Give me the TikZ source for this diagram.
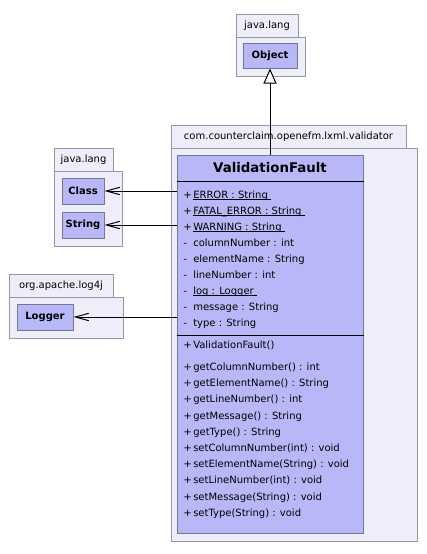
\documentclass[tikz,border=0pt]{standalone}
\usepackage{fontspec}
\setmainfont{DejaVu Sans}
\usepackage{tikz}
\usetikzlibrary{arrows.meta, fit}

\definecolor{pkgfill}{RGB}{238,238,250}
\definecolor{pkgline}{RGB}{150,150,166}
\definecolor{clsfill}{RGB}{184,184,248}
\definecolor{clsline}{RGB}{118,118,150}

\newsavebox{\statbox}
\newcommand{\vis}[1]{\makebox[7.5pt][l]{#1}}
\newcommand{\stat}[1]{\sbox{\statbox}{#1\ }\rlap{\rule[-0.9pt]{\wd\statbox}{0.6pt}}\usebox{\statbox}}

\begin{document}
\begin{tikzpicture}[
    x=0.75pt, y=-0.75pt,
    every node/.style={font=\fontsize{7.5}{9}\selectfont},
    pkgtab/.style={rectangle, draw=pkgline, fill=pkgfill, line width=0.75pt, inner sep=0pt},
    pkgbody/.style={rectangle, draw=pkgline, fill=pkgfill, line width=0.75pt, inner sep=0pt},
    classbox/.style={rectangle, draw=clsline, fill=clsfill, line width=0.75pt, inner sep=0pt},
    boxtext/.style={font=\fontsize{7.5}{9}\selectfont\bfseries},
    member/.style={anchor=base west, inner sep=0pt},
    gen/.style={-{Triangle[length=11.25pt, width=9.75pt, fill=white]}, line width=0.75pt},
    assoc/.style={-{Straight Barb[length=10pt, width=5.5pt]}, line width=0.75pt}
]
\useasboundingbox (0,0) rectangle (426,554);

% Packages
\node (objtab) [pkgtab, fit={(236,14) (298,37)}, label=center:java.lang] {};
\node (objpkg) [pkgbody, fit={(236,37) (305,76)}] {};
\node (obj) [classbox, fit={(243,43) (297,68)}, label={[boxtext]center:Object}] {};

\node (vtab) [pkgtab, fit={(171,125) (406,148)}, label=center:com.counterclaim.openefm.lxml.validator] {};
\node (vpkg) [pkgbody, fit={(171,148) (417,541)}] {};

\node (jltab) [pkgtab, fit={(54,148) (113,171)}, label=center:java.lang] {};
\node (jlpkg) [pkgbody, fit={(54,171) (122,246)}] {};
\node (cls) [classbox, fit={(62,178) (104,204)}, label={[boxtext]center:Class}] {};
\node (str) [classbox, fit={(62,212) (104,238)}, label={[boxtext]center:String}] {};

\node (logtab) [pkgtab, fit={(9,274) (113,297)}, label=center:org.apache.log4j] {};
\node (logpkg) [pkgbody, fit={(9,297) (123,338)}] {};
\node (logger) [classbox, fit={(17,304) (73,330)}, label={[boxtext]center:Logger}] {};

% ValidationFault class
\node (vf) [classbox, fit={(177,155) (363,533)}] {};
\node (vfname) [font=\fontsize{10}{12}\selectfont\bfseries] at (270,168) {ValidationFault};
\draw [line width=0.75pt] (vf.west |- 0,181) -- (vf.east |- 0,181);
\draw [line width=0.75pt] (vf.west |- 0,335) -- (vf.east |- 0,335);

\foreach \m [count=\i] in {\vis{+}\stat{ERROR : String}, \vis{+}\stat{FATAL\_ERROR : String}, \vis{+}\stat{WARNING : String}, \vis{-}columnNumber : int, \vis{-}elementName : String, \vis{-}lineNumber : int, \vis{-}\stat{log : Logger}, \vis{-}message : String, \vis{-}type : String}
    \node (attr\i) [member] at (183, 182.5+16*\i) {\m};

\node (ctor) [member] at (183,348.5) {\vis{+}ValidationFault()};

\foreach \m [count=\i] in {getColumnNumber() : int, getElementName() : String, getLineNumber() : int, getMessage() : String, getType() : String, setColumnNumber(int) : void, setElementName(String) : void, setLineNumber(int) : void, setMessage(String) : void, setType(String) : void}
    \node (op\i) [member] at (183, 354.3+16.2*\i) {\vis{+}\m};

% Relations
\draw [gen] (vf.north) -- (obj.south);
\draw [assoc] (vf.west |- cls.east) -- (cls.east);
\draw [assoc] (vf.west |- str.east) -- (str.east);
\draw [assoc] (vf.west |- logger.east) -- (logger.east);

\end{tikzpicture}
\end{document}
